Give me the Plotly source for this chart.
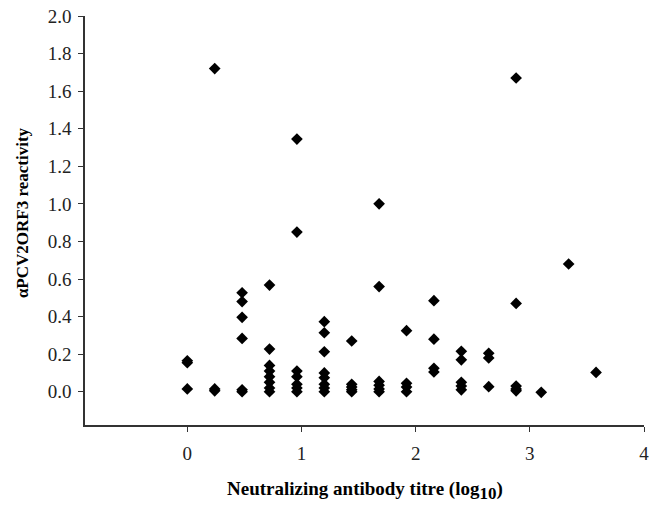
import plotly.graph_objects as go

# Titre (log10) columns and reactivity values
x_vals = (
    [0.0] * 3 + [0.24] * 3 + [0.48] * 6 + [0.72] * 8 + [0.96] * 7 + [1.2] * 8
    + [1.44] * 5 + [1.68] * 6 + [1.92] * 4 + [2.16] * 4 + [2.4] * 5
    + [2.64] * 3 + [2.88] * 5 + [3.1] + [3.34] + [3.58]
)
y_vals = (
    [0.165, 0.155, 0.015]
    + [1.72, 0.015, 0.005]
    + [0.527, 0.48, 0.396, 0.284, 0.01, 0.0]
    + [0.568, 0.227, 0.14, 0.11, 0.08, 0.05, 0.02, 0.0]
    + [1.345, 0.85, 0.11, 0.08, 0.04, 0.02, 0.0]
    + [0.373, 0.314, 0.213, 0.1, 0.075, 0.04, 0.02, 0.0]
    + [0.27, 0.04, 0.025, 0.01, 0.0]
    + [1.0, 0.56, 0.055, 0.035, 0.015, 0.0]
    + [0.325, 0.045, 0.025, 0.0]
    + [0.485, 0.28, 0.125, 0.105]
    + [0.215, 0.17, 0.05, 0.03, 0.01]
    + [0.205, 0.18, 0.027]
    + [1.67, 0.47, 0.03, 0.015, 0.005]
    + [-0.003]
    + [0.68]
    + [0.103]
)
x_ticks = [0, 1, 2, 3, 4]
y_ticks = [0.0, 0.2, 0.4, 0.6, 0.8, 1.0, 1.2, 1.4, 1.6, 1.8, 2.0]
x_title = "Neutralizing antibody titre (log<sub><span style=\"font-size:17px\">10</span></sub>)"
y_title = "αPCV2ORF3 reactivity"

serif = "Liberation Serif, Times New Roman, serif"
tick_font = dict(family=serif, size=19, color="#222")

fig = go.Figure(
    go.Scatter(
        x=x_vals,
        y=y_vals,
        mode="markers",
        marker=dict(symbol="diamond", size=9, color="black"),
        showlegend=False,
    )
)

fig.update_layout(
    width=655,
    height=506,
    margin=dict(l=85, r=6, t=16, b=81),
    paper_bgcolor="white",
    plot_bgcolor="white",
    font=dict(family=serif, size=19, color="#222"),
    xaxis=dict(
        range=[-0.896, 4.0],
        tickvals=x_ticks,
        ticks="outside",
        ticklen=5,
        tickwidth=1.3,
        tickcolor="#333",
        showline=True,
        linecolor="#333",
        linewidth=1.6,
        showgrid=False,
        zeroline=False,
        tickfont=tick_font,
        ticklabelstandoff=5,
    ),
    yaxis=dict(
        range=[-0.177, 2.0],
        tickvals=y_ticks,
        tickformat=".1f",
        ticks="outside",
        ticklen=5,
        tickwidth=1.3,
        tickcolor="#333",
        showline=True,
        linecolor="#333",
        linewidth=1.6,
        showgrid=False,
        zeroline=False,
        tickfont=tick_font,
        ticklabelstandoff=3,
    ),
    annotations=[
        dict(
            text=x_title,
            xref="paper", yref="paper",
            x=0.5, y=-0.159,
            xanchor="center", yanchor="middle",
            showarrow=False,
            font=dict(family=serif, size=19, color="black", weight="bold"),
        ),
        dict(
            text=y_title,
            xref="paper", yref="paper",
            x=-0.112, y=0.519,
            xanchor="center", yanchor="middle",
            textangle=-90,
            showarrow=False,
            font=dict(family=serif, size=17, color="black", weight="bold"),
        ),
    ],
)

fig.write_html("out.html")
